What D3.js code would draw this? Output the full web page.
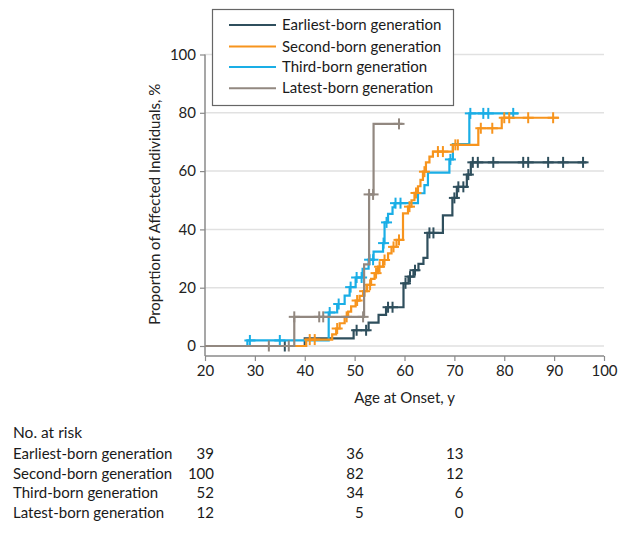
<!DOCTYPE html>
<html>
<head>
<meta charset="utf-8">
<script src="https://cdn.jsdelivr.net/npm/d3@7"></script>
<style>
  html, body { margin: 0; padding: 0; background: #fff; }
  svg { display: block; font-family: Lato, "Liberation Sans", sans-serif; }
</style>
</head>
<body>
<svg id="chart" width="621" height="540"></svg>
<script>
// ---------- data ----------
const ageTicks = [20, 30, 40, 50, 60, 70, 80, 90, 100];
const pctTicks = [0, 20, 40, 60, 80, 100];
const seriesNames = ["Earliest-born generation", "Second-born generation", "Third-born generation", "Latest-born generation"];
const seriesColors = ["#2f4f5d", "#f7941d", "#1aaee6", "#928880"];

// step points: [age at onset, cumulative proportion %]
const earliestSteps = [[20,0],[40,2.6],[49.8,5.4],[52.8,8],[54.8,10.7],[56.3,13.3],[59.8,21.5],[60.8,23.8],[61.8,26],[62.8,28.2],[63.8,30.2],[64.6,38.8],[67.7,44.8],[69.6,50.8],[70.5,54.6],[72.5,58.8],[73.3,63]];
const earliestEnd = 96.5;
const earliestCensor = [36, 50.4, 52.3, 56.7, 57.6, 60.2, 61.1, 62.1, 65, 65.8, 70, 70.8, 71.8, 72.8, 73.7, 74.7, 77.8, 83.8, 84.8, 88.8, 91.8, 95.8];

const secondSteps = [[20,0],[40.3,2.2],[45.5,4],[46.3,6],[47,7.8],[48,10],[48.7,11.8],[49.3,13.6],[50.2,15.6],[51,17.2],[51.7,18.8],[52.5,21],[53.3,23],[54,25],[54.7,27.2],[55.7,29.5],[56.7,31.8],[57.4,34],[58.4,36.4],[59.7,45.5],[60.7,47.8],[61.4,50],[62,52.5],[62.7,54.8],[63.2,57],[63.7,59.8],[64.3,63],[65,65],[65.7,66.7],[69.7,69],[74.8,74.7],[79.5,78.3]];
const secondEnd = 91;
const secondCensor = [41, 42, 46.5, 48.4, 50.5, 52, 53.1, 54.3, 55, 56, 57.8, 58.9, 61, 62.3, 64, 66.7, 67.7, 70.2, 70.7, 75.3, 77.6, 80, 81, 84.8, 89.8];

const thirdSteps = [[20,0],[28.5,1.9],[44.8,11.5],[46.5,14.4],[48,17.3],[49,20.2],[50.2,23.5],[51.6,26.5],[52.8,29.6],[53.8,32.4],[55.7,35.3],[56,42.4],[56.7,45.3],[57.6,47.6],[58,49],[62.7,52.4],[64,55.2],[64.7,59.5],[69,64],[69.7,69.3],[73,79.8]];
const thirdEnd = 82.8;
const thirdCensor = [29, 35, 45, 46.8, 49.2, 50.4, 51.4, 53, 53.7, 55.8, 56.4, 58.2, 59.2, 69.2, 73.2, 75.8, 76.8, 81.8];

const latestSteps = [[20,0],[37.9,10],[51.9,28],[52.9,52],[53.8,76.2]];
const latestEnd = 59.6;
const latestCensor = [32.8, 36.8, 37.9, 42.9, 43.7, 51.7, 52.9, 53.7, 58.9];

const riskAges = [20, 50, 70];
const riskEarliest = [39, 36, 13];
const riskSecond = [100, 82, 12];
const riskThird = [52, 34, 6];
const riskLatest = [12, 5, 0];

// ---------- chart ----------
const svg = d3.select("#chart");
const x = d3.scaleLinear().domain([20, 100]).range([205, 604]);
const y = d3.scaleLinear().domain([0, 100]).range([346, 54.5]);
const axisColor = "#8a8a8a";
const font = 15;

// gridlines
svg.append("g").selectAll("line").data(pctTicks).join("line")
  .attr("x1", x(20)).attr("x2", x(100))
  .attr("y1", d => y(d)).attr("y2", d => y(d))
  .attr("stroke", "#e1e1e1").attr("stroke-width", 1.5);

// y axis
const yAxis = svg.append("g").attr("transform", `translate(${x(20)},0)`)
  .call(d3.axisLeft(y).tickValues(pctTicks).tickSize(5).tickPadding(4));
yAxis.select(".domain").remove();
yAxis.selectAll(".tick line").attr("stroke", axisColor).attr("stroke-width", 1.2);
yAxis.selectAll(".tick text").attr("font-size", font).attr("fill", "#222").attr("font-family", "Lato, sans-serif");
svg.append("line").attr("x1", x(20)).attr("x2", x(20)).attr("y1", y(100)).attr("y2", 356)
  .attr("stroke", axisColor).attr("stroke-width", 1.5);

// x axis
const xAxis = svg.append("g").attr("transform", "translate(0,356)")
  .call(d3.axisBottom(x).tickValues(ageTicks).tickSize(5).tickPadding(4));
xAxis.select(".domain").remove();
xAxis.selectAll(".tick line").attr("stroke", axisColor).attr("stroke-width", 1.2);
xAxis.selectAll(".tick text").attr("font-size", font).attr("fill", "#222").attr("font-family", "Lato, sans-serif");
svg.append("line").attr("x1", x(20)).attr("x2", x(100)).attr("y1", 356).attr("y2", 356)
  .attr("stroke", axisColor).attr("stroke-width", 1.5);

// axis titles
svg.append("text").attr("x", (x(20) + x(100)) / 2).attr("y", 403)
  .attr("text-anchor", "middle").attr("font-size", font).attr("fill", "#222")
  .text("Age at Onset, y");
svg.append("text").attr("transform", `translate(160,${(y(0) + y(100)) / 2 + 4}) rotate(-90)`)
  .attr("text-anchor", "middle").attr("font-size", font).attr("fill", "#222")
  .text("Proportion of Affected Individuals, %");

// curves
const series = [
  { steps: earliestSteps, end: earliestEnd, censor: earliestCensor, color: seriesColors[0] },
  { steps: thirdSteps, end: thirdEnd, censor: thirdCensor, color: seriesColors[2] },
  { steps: secondSteps, end: secondEnd, censor: secondCensor, color: seriesColors[1] },
  { steps: latestSteps, end: latestEnd, censor: latestCensor, color: seriesColors[3] }
];
const line = d3.line().x(d => x(d[0])).y(d => y(d[1])).curve(d3.curveStepAfter);
function levelAt(steps, a) {
  let v = 0;
  for (const s of steps) { if (s[0] <= a) v = s[1]; }
  return v;
}
const half = 5.5;
series.forEach(s => {
  const pts = s.steps.concat([[s.end, s.steps[s.steps.length - 1][1]]]);
  const g = svg.append("g");
  g.append("path").attr("d", line(pts)).attr("fill", "none")
    .attr("stroke", s.color).attr("stroke-width", 2.2);
  const marks = g.selectAll("g.c").data(s.censor).join("g");
  marks.append("line")
    .attr("x1", d => x(d)).attr("x2", d => x(d))
    .attr("y1", d => y(levelAt(s.steps, d)) - half).attr("y2", d => y(levelAt(s.steps, d)) + half)
    .attr("stroke", s.color).attr("stroke-width", 2);
  marks.append("line")
    .attr("x1", d => x(d) - half).attr("x2", d => x(d) + half)
    .attr("y1", d => y(levelAt(s.steps, d))).attr("y2", d => y(levelAt(s.steps, d)))
    .attr("stroke", s.color).attr("stroke-width", 2);
});

// legend
const lg = svg.append("g");
lg.append("rect").attr("x", 212.5).attr("y", 9.5).attr("width", 241).attr("height", 96)
  .attr("fill", "#fff").attr("stroke", "#666").attr("stroke-width", 1.2);
const legendRows = [25, 46.5, 67, 88.3];
seriesNames.forEach((n, i) => {
  lg.append("line").attr("x1", 229).attr("x2", 276).attr("y1", legendRows[i]).attr("y2", legendRows[i])
    .attr("stroke", seriesColors[i]).attr("stroke-width", 2);
  lg.append("text").attr("x", 282).attr("y", legendRows[i] + 5).attr("font-size", font)
    .attr("fill", "#1a1a1a").text(n);
});

// number at risk table
const tbl = svg.append("g").attr("font-size", font).attr("fill", "#1a1a1a");
tbl.append("text").attr("x", 13).attr("y", 438).attr("font-size", font + 0.5).text("No. at risk");
const riskRows = [riskEarliest, riskSecond, riskThird, riskLatest];
const rowY = [459, 478.5, 498, 517.5];
riskRows.forEach((vals, i) => {
  tbl.append("text").attr("x", 13).attr("y", rowY[i]).text(seriesNames[i]);
  vals.forEach((v, j) => {
    tbl.append("text").attr("x", x(riskAges[j]) + 9).attr("y", rowY[i])
      .attr("text-anchor", "end").text(v);
  });
});
</script>
</body>
</html>
